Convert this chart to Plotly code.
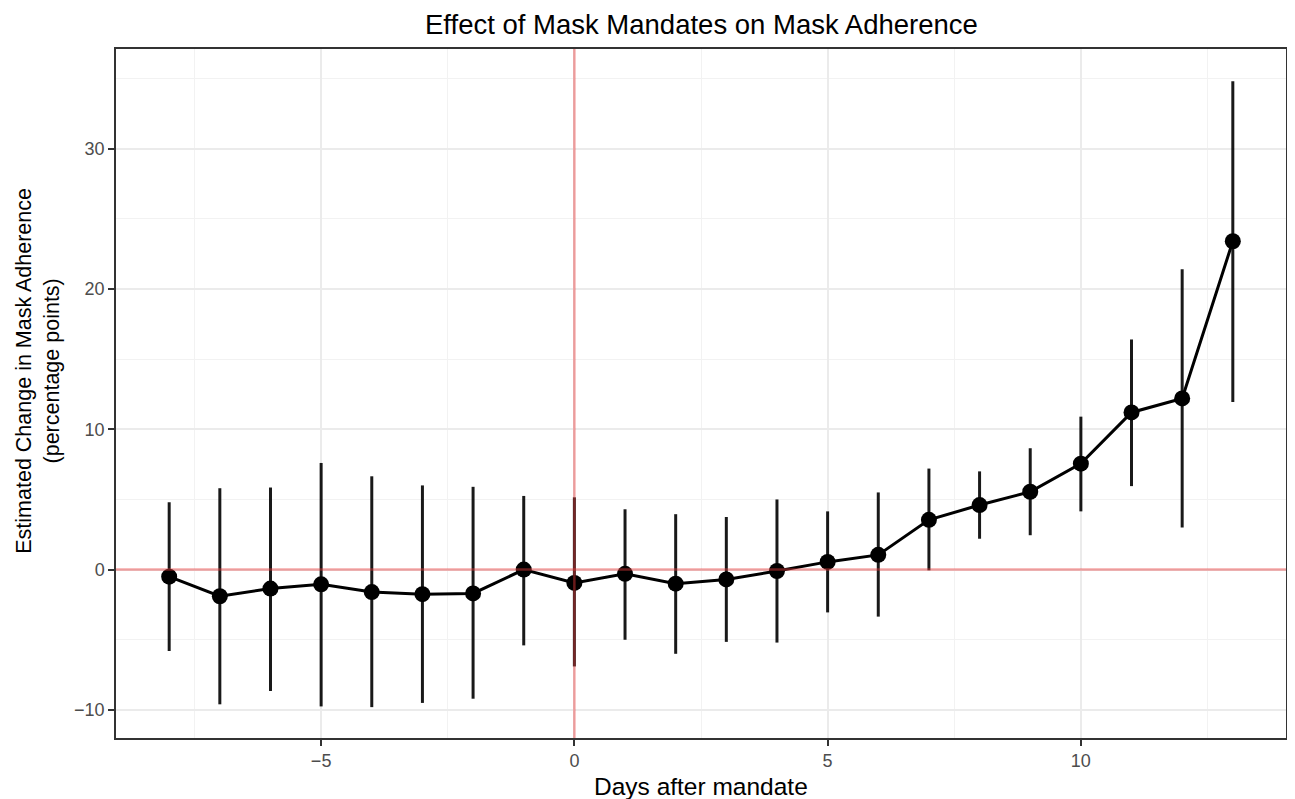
import plotly.graph_objects as go

days = [-8, -7, -6, -5, -4, -3, -2, -1, 0, 1, 2, 3, 4, 5, 6, 7, 8, 9, 10, 11, 12, 13]
estimate = [-0.5, -1.9, -1.35, -1.05, -1.6, -1.75, -1.7, 0.0, -0.95, -0.3, -1.0, -0.7, -0.1, 0.55, 1.05, 3.55, 4.6, 5.55, 7.55, 11.2, 12.2, 23.4]
upper = [4.8, 5.8, 5.85, 7.6, 6.65, 6.0, 5.9, 5.25, 5.15, 4.3, 3.95, 3.75, 5.0, 4.15, 5.5, 7.2, 7.0, 8.65, 10.9, 16.4, 21.4, 34.8]
lower = [-5.8, -9.6, -8.65, -9.75, -9.8, -9.5, -9.2, -5.4, -6.9, -5.0, -6.0, -5.15, -5.2, -3.05, -3.35, -0.05, 2.2, 2.45, 4.15, 5.95, 3.0, 11.95]

x_ticks = [-5, 0, 5, 10]
x_tick_labels = ["\u22125", "0", "5", "10"]
y_ticks = [-10, 0, 10, 20, 30]
y_tick_labels = ["\u221210", "0", "10", "20", "30"]

err_plus = [u - e for u, e in zip(upper, estimate)]
err_minus = [e - l for e, l in zip(estimate, lower)]

fig = go.Figure()
fig.add_trace(go.Scatter(
    x=days, y=estimate, mode="lines+markers",
    line=dict(color="black", width=3),
    marker=dict(color="black", size=16),
    error_y=dict(type="data", symmetric=False, array=err_plus, arrayminus=err_minus,
                 color="rgba(0,0,0,0.9)", thickness=3, width=0),
    showlegend=False,
))

red = "rgba(235,60,60,0.45)"
fig.add_shape(type="line", xref="x", yref="paper", x0=0, x1=0, y0=0, y1=1,
              line=dict(color=red, width=2.5), layer="above")
fig.add_shape(type="line", xref="paper", yref="y", x0=0, x1=1, y0=0, y1=0,
              line=dict(color=red, width=2.5), layer="above")

font = "Liberation Sans, Arial, Helvetica, sans-serif"
fig.add_annotation(text="Estimated Change in Mask Adherence<br>(percentage points)",
                   xref="paper", yref="paper", x=-0.0667, y=0.533, xanchor="center", yanchor="middle",
                   textangle=-90, showarrow=False, font=dict(size=21.5, color="black"))
fig.add_annotation(text="Days after mandate",
                   xref="paper", yref="paper", x=0.5, y=-0.0697, xanchor="center", yanchor="middle",
                   showarrow=False, font=dict(size=24.5, color="black"))
fig.add_annotation(text="Effect of Mask Mandates on Mask Adherence",
                   xref="paper", yref="paper", x=0.5, y=1 + 24 / 689, xanchor="center", yanchor="middle",
                   showarrow=False, font=dict(size=27.5, color="black"))

fig.update_layout(
    width=1287, height=791,
    margin=dict(l=108, r=9, t=41, b=61, autoexpand=False),
    paper_bgcolor="white", plot_bgcolor="white",
    font=dict(family=font, color="black"),
    xaxis=dict(
        range=[-9.05, 14.05], tickmode="array", tickvals=x_ticks, ticktext=x_tick_labels,
        showgrid=True, gridcolor="#EBEBEB", gridwidth=2,
        minor=dict(tickmode="array", tickvals=[-7.5, -2.5, 2.5, 7.5, 12.5], showgrid=True,
                   gridcolor="#F2F2F2", gridwidth=1),
        zeroline=False, showline=True, mirror=True, linecolor="#333333", linewidth=1.5,
        ticks="outside", ticklen=6, tickcolor="#333333", tickwidth=1.5,
        tickfont=dict(size=18, color="#4D4D4D"), automargin=False,
    ),
    yaxis=dict(
        range=[-12.0, 37.1], tickmode="array", tickvals=y_ticks, ticktext=y_tick_labels,
        showgrid=True, gridcolor="#EBEBEB", gridwidth=2,
        minor=dict(tickmode="array", tickvals=[-5, 5, 15, 25, 35], showgrid=True,
                   gridcolor="#F2F2F2", gridwidth=1),
        zeroline=False, showline=True, mirror=True, linecolor="#333333", linewidth=1.5,
        ticks="outside", ticklen=6, tickcolor="#333333", tickwidth=1.5,
        tickfont=dict(size=18, color="#4D4D4D"), automargin=False,
    ),
)

fig.write_html("out.html")
